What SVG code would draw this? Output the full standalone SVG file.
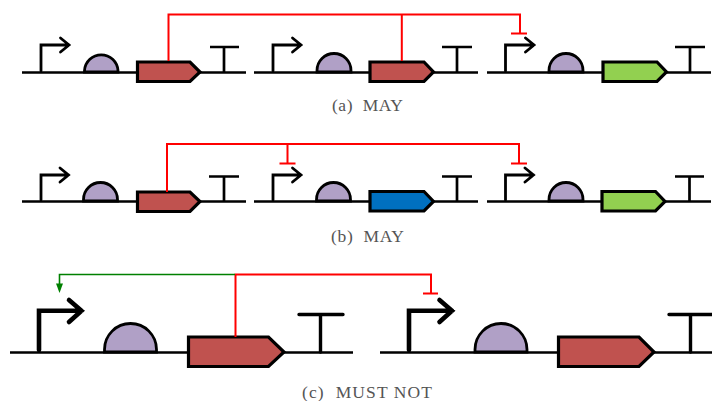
<svg xmlns="http://www.w3.org/2000/svg" width="712" height="401" viewBox="0 0 712 401">
<style>
.bb{fill:none;stroke:#000;stroke-width:2.7;stroke-linecap:butt}
.pr{fill:none;stroke:#000;stroke-width:2.8;stroke-linejoin:miter;stroke-linecap:round}
.rbs{fill:#b0a0c6;stroke:#000;stroke-width:2.8}
.g{stroke:#000;stroke-width:3.2;stroke-linejoin:miter}
.red{fill:#c0524f}.blue{fill:#0070c0}.green{fill:#92d050}
.r{fill:none;stroke:#f00;stroke-width:2}
.gr{fill:none;stroke:#008000;stroke-width:1.6}
.big{stroke-width:3.4}
.bigp{stroke-width:4.6}
.t{font-family:"Liberation Serif",serif;font-size:17.500px;fill:#555;white-space:pre}
</style>
<g id="a1">
<path class="bb" d="M22 72.500H137M200 72.500H246"/><path class="pr" d="M41 71V45H69M60.500 38L69 45L60.500 52"/><path class="rbs" d="M84.500 72V70.500A16.800 17 0 0 1 118 70.500V72Z"/><path class="g red" d="M137.500 62H190L200 72L190 81.500H137.500Z"/><path class="bb" d="M224 72V47M210 47H239"/>
</g>
<g id="a2">
<path class="bb" d="M254 72.500H370M433 72.500H478"/><path class="pr" d="M273 71V45H301M292.500 38L301 45L292.500 52"/><path class="rbs" d="M317 72V70.500A17 17 0 0 1 351 70.500V72Z"/><path class="g red" d="M370 62H424L433.500 72L424 81.500H370Z"/><path class="bb" d="M457 72V47M442 47H472"/>
</g>
<g id="a3">
<path class="bb" d="M487 72.500H603M666 72.500H711"/><path class="pr" d="M505.500 71V45H534M525.500 38L534 45L525.500 52"/><path class="rbs" d="M549 72V70.500A17 17 0 0 1 583 70.500V72Z"/><path class="g green" d="M603 62H657L666.500 72L657 81.500H603Z"/><path class="bb" d="M690 72V47M675 47H705"/>
</g>
<g id="b1">
<path class="bb" d="M22 201.500H137M200 201.500H246"/><path class="pr" d="M41 200V175H68.500M60 168L68.500 175L60 182"/><path class="rbs" d="M83.500 201V199.500A17 17 0 0 1 117.500 199.500V201Z"/><path class="g red" d="M137.500 192H190L200 201.500L190 211.500H137.500Z"/><path class="bb" d="M224 201V176.500M209 176.500H239"/>
</g>
<g id="b2">
<path class="bb" d="M254 201.500H370M433 201.500H478"/><path class="pr" d="M273 200V175H301M292.500 168L301 175L292.500 182"/><path class="rbs" d="M316.500 201V199.500A17 17 0 0 1 350.500 199.500V201Z"/><path class="g blue" d="M370 191.500H424L433.500 201.500L424 211H370Z"/><path class="bb" d="M457 201V176.500M442 176.500H472"/>
</g>
<g id="b3">
<path class="bb" d="M487 201.500H602M665 201.500H711"/><path class="pr" d="M505.500 200V175H533.500M525 168L533.500 175L525 182"/><path class="rbs" d="M549 201V199.500A17 17 0 0 1 583 199.500V201Z"/><path class="g green" d="M602 191.500H655.500L665 201.500L655.500 211H602Z"/><path class="bb" d="M689.500 201V176.500M675 176.500H704"/>
</g>
<g id="c1">
<path class="bb" d="M10 352.500H188M284 352.500H353"/><path class="pr bigp" d="M39 350V310.700H81.500M69 300L81.500 310.700L69 322"/><path class="rbs" d="M104.500 352V349.500A26 26 0 0 1 156.500 349.500V352Z"/><path class="g red" d="M188.500 337H268.500L284 352L268.500 366.500H188.500Z"/><path class="pr big" d="M320.500 352V314.500M299 314.500H343"/>
</g>
<g id="c2">
<path class="bb" d="M380 352.500H558M654 352.500H712"/><path class="pr bigp" d="M409 350V310.700H452M439.500 300L452 310.700L439.500 322"/><path class="rbs" d="M475 352V349.500A26 26 0 0 1 527 349.500V352Z"/><path class="g red" d="M558.500 337H639L654 352L639 366.500H558.500Z"/><path class="pr big" d="M690.500 352V314.500M669 314.500H713"/>
</g>
<g id="connectors">
<path class="r" d="M168.500 61V14.500H520V33M511 33.500H527M401.800 14.500V61"/>
<path class="r" d="M167 192V144H519V163M511 163.500H527M287.500 144V163M279.500 163.500H295.500"/>
<path class="r" d="M235.500 337V274.500H431V293M423 293.500H438"/>
<path class="gr" d="M235 274.500H59.500V285"/>
<path d="M56 283.500H63L59.500 293Z" fill="#008000"/>
</g>
<g id="captions">
<text class="t" x="332" y="111" textLength="71">(a)  MAY</text>
<text class="t" x="331" y="241.500" textLength="73">(b)  MAY</text>
<text class="t" x="302" y="398" textLength="130">(c)  MUST NOT</text>
</g>
</svg>
